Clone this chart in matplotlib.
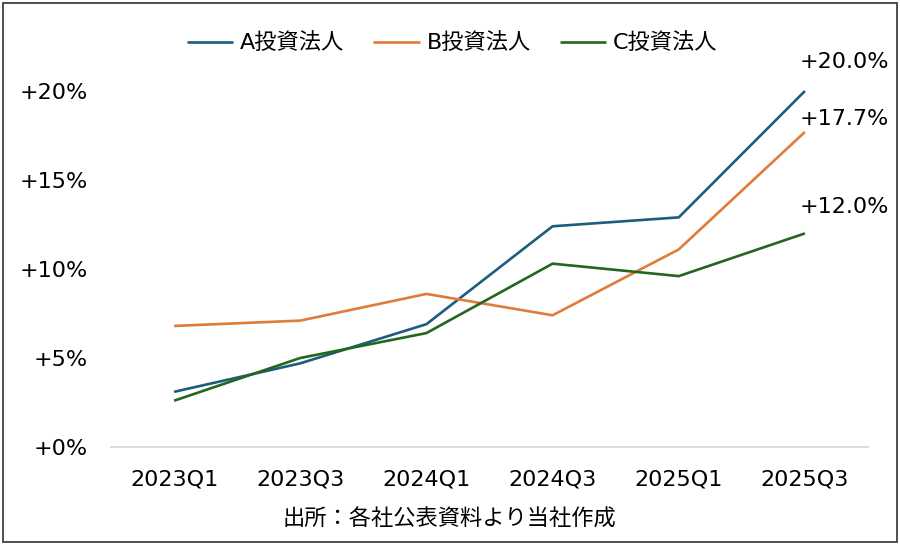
import matplotlib.pyplot as plt
from matplotlib.patches import Rectangle
from matplotlib.ticker import FuncFormatter

plt.rcParams['font.family'] = ['DejaVu Sans', 'Noto Sans CJK JP']

# Data (growth rate, %)
quarters = ['2023Q1', '2023Q3', '2024Q1', '2024Q3', '2025Q1', '2025Q3']
series_names = ['A投資法人', 'B投資法人', 'C投資法人']
a_values = [3.1, 4.7, 6.9, 12.4, 12.9, 20.0]
b_values = [6.8, 7.1, 8.6, 7.4, 11.1, 17.7]
c_values = [2.6, 5.0, 6.4, 10.3, 9.6, 12.0]
colors = ['#1c5c7d', '#e07b39', '#22661f']
label_offsets = [(-4, 14), (-4, 2), (-4, 12)]
source_text = '出所：各社公表資料より当社作成'

fig = plt.figure(figsize=(9, 5.45), dpi=100)
ax = fig.add_axes([111 / 900, 1 - 447 / 545, (868 - 111) / 900, (447 - 91) / 545])

x = list(range(len(quarters)))
for name, vals, col, off in zip(series_names, [a_values, b_values, c_values], colors, label_offsets):
    ax.plot(x, vals, color=col, lw=1.9, label=name, clip_on=False, solid_capstyle='butt')
    ax.annotate('+{:.1f}%'.format(vals[-1]), (x[-1], vals[-1]), xytext=off,
                textcoords='offset points', fontsize=16, ha='left', va='bottom')

ax.set_xlim(-0.5, 5.5)
ax.set_ylim(0, 20)
ax.set_xticks(x)
ax.set_xticklabels(quarters)
ax.set_yticks([0, 5, 10, 15, 20])
ax.yaxis.set_major_formatter(FuncFormatter(lambda v, p: '+{:.0f}%'.format(v)))
ax.tick_params(axis='both', length=0, labelsize=16)
ax.tick_params(axis='y', pad=17)
ax.tick_params(axis='x', pad=16)

for s in ['top', 'right', 'left']:
    ax.spines[s].set_visible(False)
ax.spines['bottom'].set_color('#d9d9d9')
ax.spines['bottom'].set_linewidth(1.3)

fig.legend(loc='center', bbox_to_anchor=(452 / 900, 1 - 43 / 545), ncol=3, frameon=False,
           fontsize=16, handlelength=2.1, handletextpad=0.3, columnspacing=1.3)

fig.text(449 / 900, 1 - 519 / 545, source_text, ha='center', va='center', fontsize=16)

fig.patches.append(Rectangle((3 / 900, 3 / 545), 894 / 900, 539 / 545, transform=fig.transFigure,
                             fill=False, edgecolor='#404040', lw=1.3))

fig.savefig('out.png', dpi=100)
